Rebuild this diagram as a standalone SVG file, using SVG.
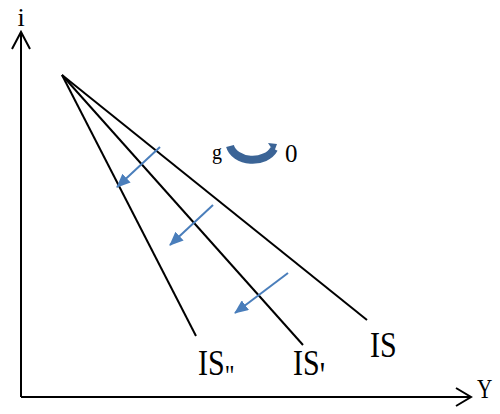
<svg xmlns="http://www.w3.org/2000/svg" width="500" height="414" viewBox="0 0 500 414">
<style>
.ax{stroke:#000;stroke-width:2;fill:none}
.ln{stroke:#000;stroke-width:2;fill:none}
.sh{stroke:#4a7ebb;stroke-width:2;fill:none}
.t{font-family:"Liberation Serif","Times New Roman",serif;font-weight:normal;fill:#000}
.is{font-size:30px}
</style>
<defs>
<marker id="ah" markerUnits="userSpaceOnUse" markerWidth="14" markerHeight="12" refX="13" refY="6" orient="auto">
<path d="M0,0 L14,6 L0,12 Z" fill="#4a7ebb"/>
</marker>
</defs>
<rect width="500" height="414" fill="#fff"/>
<g id="axes">
<path class="ax" d="M21,397 V33 M12,49 L21,32 L30,49"/>
<path class="ax" d="M21,397 H470 M456,388 L471,397 L456,406"/>
<text class="t" x="21" y="26" font-size="26" text-anchor="middle">i</text>
<text class="t" transform="translate(477,398) scale(0.85,1.1)" font-size="25">Y</text>
</g>
<g id="connectors">
<line class="ln" x1="62" y1="75" x2="196" y2="336"/>
<line class="ln" x1="62" y1="75" x2="303" y2="345"/>
<line class="ln" x1="62" y1="75" x2="367" y2="320"/>
<line class="sh" x1="160" y1="147" x2="117" y2="187" marker-end="url(#ah)"/>
<line class="sh" x1="213" y1="205" x2="170" y2="245" marker-end="url(#ah)"/>
<line class="sh" x1="288" y1="273" x2="235" y2="313" marker-end="url(#ah)"/>
</g>
<g id="IS2">
<text class="t is" transform="translate(198,375) scale(1,1.2)">IS<tspan font-size="24" dy="8.7">"</tspan></text>
</g>
<g id="IS1">
<text class="t is" transform="translate(293,375) scale(1,1.2)">IS<tspan font-size="30" dy="10">'</tspan></text>
</g>
<g id="IS">
<text class="t is" transform="translate(370,357) scale(1,1.2)">IS</text>
</g>
<g id="change">
<text class="t" x="212" y="159" font-size="20">g</text>
<path d="M230,146 A23 17 0 0 0 274,149" stroke="#3b6496" stroke-width="8" fill="none"/>
<path d="M268,143 L277,144 L274,152 Z" fill="#3b6496"/>
<text class="t" x="285" y="162" font-size="25">0</text>
</g>
</svg>
